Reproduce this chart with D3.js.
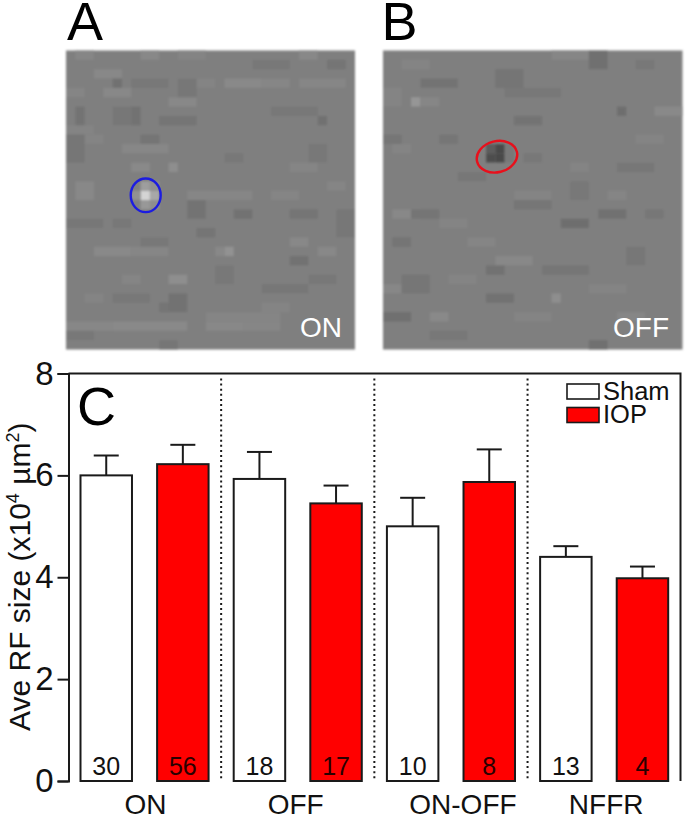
<!DOCTYPE html>
<html><head><meta charset="utf-8">
<script src="https://cdn.jsdelivr.net/npm/d3@7"></script>
<style>html,body{margin:0;padding:0;background:#fff}svg{display:block;font-family:"Liberation Sans",Arial,sans-serif}</style>
</head><body><svg id="c" width="685" height="818"></svg>
<script>
// Panel C data
const categories = ["ON","OFF","ON-OFF","NFFR"];
const groups = ["Sham","IOP"];
const shamMean = [6.0,5.93,5.0,4.4];
const iopMean  = [6.22,5.45,5.87,3.98];
const shamErr  = [0.39,0.53,0.56,0.21];
const iopErr   = [0.38,0.35,0.64,0.23];
const shamN = [30,18,10,13];
const iopN  = [56,17,8,4];
const yTicks = [0,2,4,6,8];

// Panels A, B: visible patches of the noise, [col,row,colspan,rowspan,grey]
const patchesA = [
 [1,0,2,1,134],[8,0,2,1,136],[12,0,3,1,132],[25,0,2,1,136],[3,2,3,1,136],[4,4,3,1,136],[0,4,2,1,133],
 [17,3,4,1,137],[21,3,3,1,134],[14,3,2,1,132],[11,5,3,1,136],[6,10,5,1,135],[0,8,3,1,132],[7,12,2,1,137],[11,12,1,1,142],
 [1,14,2,2,136],[13,15,7,1,134],[24,12,3,1,133],[3,21,4,1,137],[7,21,4,1,134],[17,21,1,1,146],[16,21,1,1,136],[11,24,2,1,142],
 [0,29,5,1,135],[5,29,8,1,137],[15,29,4,1,136],[19,29,4,1,134],[15,28,8,1,133],[27,21,2,1,136],[24,20,2,1,136],
 [25,3,5,1,134],[2,9,2,1,132],[22,15,3,1,133],[28,14,2,1,133],[6,24,2,1,133],[21,27,3,1,132],[2,26,2,1,132],
 [10,7,4,1,116],[27,7,1,1,113],[1,6,1,2,115],[5,3,1,1,113],[7,6,1,2,114],[5,6,2,2,119],[13,16,2,2,115],[18,17,2,1,114],[24,17,3,1,116],
 [14,19,2,1,116],[24,22,2,1,114],[11,26,2,2,114],[10,27,1,1,116],[28,1,2,1,116],[8,9,2,1,116],[7,3,4,1,120],
 [0,9,2,3,118],[22,6,5,1,120],[0,18,4,1,119],[8,20,3,1,120],[21,25,5,1,119],[5,26,4,1,120],[26,24,3,1,120],
 [17,11,2,1,120],[26,10,2,2,120],[12,3,2,2,119],[20,1,4,1,120],[16,23,2,2,120],[29,17,2,3,119],[5,18,2,1,120],[0,30,3,1,120],[10,31,2,1,118]
];
const spotA = [[8,15,1,1,212],[9,15,1,1,168],[8,14,1,1,158],[8,16,1,1,152],[7,15,1,1,146],[9,14,1,1,144],[9,16,1,1,142]];
const patchesB = [
 [18,0,4,1,134],[3,5,1,1,150],[4,5,2,1,134],[29,6,3,1,137],[12,22,4,1,136],[5,28,2,1,137],[18,26,1,1,142],[1,17,3,1,136],
 [24,15,2,1,133],[14,15,4,1,132],[2,1,3,1,132],[7,24,3,1,132],[22,25,4,1,132],[0,25,2,1,135],[9,20,3,1,133],
 [1,10,2,1,132],[27,9,3,1,132],[6,18,3,1,132],[25,28,3,1,134],[14,28,4,1,132],[20,12,2,1,132],[0,4,2,2,132],
 [22,0,2,2,112],[12,2,3,2,116],[4,3,4,1,115],[25,6,1,1,110],[14,7,3,1,115],[19,18,3,1,110],[23,17,3,1,113],
 [0,28,3,1,112],[11,23,2,1,114],[11,26,3,1,114],[22,31,2,1,112],[0,9,2,1,118],[6,9,2,1,118],[25,12,4,1,119],
 [3,17,3,1,116],[14,16,4,1,118],[1,20,2,1,116],[17,23,5,1,118],[13,4,6,1,120],[27,1,2,1,120],
 [8,13,3,1,119],[20,14,2,2,120],[2,24,3,2,118],[26,21,2,2,119],[5,30,4,1,120],[15,11,2,1,120],[28,17,2,1,119]
];
const spotB = [[12,10,1,1,74],[12,11,1,1,74],[11,11,1,1,78],[11,10,1,1,92],[13,10,1,1,120],[13,11,1,1,120]];
const backgroundGrey = 127;
const gridCols = d3.range(31), gridRows = d3.range(32);
const gridColsB = d3.range(32);

const svg = d3.select("#c");
const defs = svg.append("defs");
defs.append("filter").attr("id","soft").attr("x","-2%").attr("y","-2%").attr("width","104%").attr("height","104%")
  .append("feGaussianBlur").attr("stdDeviation",0.8);

function panel(x0,x1,y0,y1,cols,rows,patches,spot){
  const x = d3.scaleBand().domain(cols).range([x0,x1]);
  const y = d3.scaleBand().domain(rows).range([y0,y1]);
  const g = svg.append("g").attr("filter","url(#soft)");
  g.append("rect").attr("x",x0).attr("y",y0).attr("width",x1-x0).attr("height",y1-y0)
    .attr("fill",d3.rgb(backgroundGrey,backgroundGrey,backgroundGrey));
  g.selectAll("rect.p").data(patches.concat(spot)).join("rect").attr("class","p")
    .attr("x",d=>x(d[0])).attr("y",d=>y(d[1]))
    .attr("width",d=>x.step()*d[2]).attr("height",d=>y.step()*d[3])
    .attr("fill",d=>d3.rgb(d[4],d[4],d[4]));
}
panel(66,355,50.5,349.5,gridCols,gridRows,patchesA,spotA);
panel(383,682.5,50.5,349.5,gridColsB,gridRows,patchesB,spotB);

svg.append("ellipse").attr("cx",145.7).attr("cy",195.3).attr("rx",15).attr("ry",16.8)
  .attr("fill","none").attr("stroke","#1c1ce0").attr("stroke-width",2.4);
svg.append("ellipse").attr("cx",497).attr("cy",156.7).attr("rx",20.5).attr("ry",15.5)
  .attr("transform","rotate(-14 497 156.7)")
  .attr("fill","none").attr("stroke","#e8101c").attr("stroke-width",2.4);

const big = (t,x,y)=>svg.append("text").attr("x",x).attr("y",y).attr("font-size",54).attr("fill","#000").text(t);
big("A",67,40); big("B",381.5,40); big("C",77,425);
svg.append("text").attr("x",342).attr("y",337).attr("text-anchor","end").attr("font-size",28).attr("fill","#fff").text("ON");
svg.append("text").attr("x",669).attr("y",337).attr("text-anchor","end").attr("font-size",28).attr("fill","#fff").text("OFF");

// Panel C
const bars = categories.flatMap((c,i)=>[
  {key:c+"|Sham",cat:c,group:"Sham",v:shamMean[i],e:shamErr[i],n:shamN[i]},
  {key:c+"|IOP",cat:c,group:"IOP",v:iopMean[i],e:iopErr[i],n:iopN[i]}]);
const xL=68.5,xR=680.5,yT=373.5,yB=781;
const x = d3.scaleBand().domain(bars.map(d=>d.key)).range([80.5,668.2]).paddingInner(0.328).paddingOuter(0);
const y = d3.scaleLinear().domain([0,8]).range([yB,yT]);
const color = d3.scaleOrdinal().domain(groups).range(["#fff","#ff0000"]);
const ink="#1a1a1a", sw=2;

// dotted separators
d3.range(1,categories.length).forEach(i=>{
  const k = bars[i*2].key;
  const sx = x(k)-(x.step()-x.bandwidth())/2;
  svg.append("line").attr("x1",sx).attr("x2",sx).attr("y1",yT+5).attr("y2",yB)
    .attr("stroke",ink).attr("stroke-width",2).attr("stroke-dasharray","2 3.1");
});

const bg = svg.selectAll("g.bar").data(bars).join("g").attr("class","bar");
bg.append("line").attr("x1",d=>x(d.key)+x.bandwidth()/2).attr("x2",d=>x(d.key)+x.bandwidth()/2)
  .attr("y1",d=>y(d.v)).attr("y2",d=>y(d.v+d.e)).attr("stroke",ink).attr("stroke-width",sw);
bg.append("line").attr("x1",d=>x(d.key)+x.bandwidth()/2-12.5).attr("x2",d=>x(d.key)+x.bandwidth()/2+12.5)
  .attr("y1",d=>y(d.v+d.e)).attr("y2",d=>y(d.v+d.e)).attr("stroke",ink).attr("stroke-width",sw);
bg.append("rect").attr("x",d=>x(d.key)).attr("y",d=>y(d.v)).attr("width",x.bandwidth())
  .attr("height",d=>y(0)-y(d.v)).attr("fill",d=>color(d.group)).attr("stroke",ink).attr("stroke-width",sw);
bg.append("text").attr("x",d=>x(d.key)+x.bandwidth()/2).attr("y",775).attr("text-anchor","middle")
  .attr("font-size",25).attr("fill",d=>d.group==="IOP"?"#2a0000":"#111").text(d=>d.n);

// frame
svg.append("path").attr("d",`M${xL},${yT}H${xR}V${yB}`).attr("fill","none").attr("stroke",ink).attr("stroke-width",2);

const yAxis = svg.append("g").attr("transform",`translate(${xL},0)`)
  .call(d3.axisLeft(y).tickValues(yTicks).tickSize(11).tickPadding(4).tickFormat(d3.format("d")));
yAxis.selectAll("path,line").attr("stroke",ink).attr("stroke-width",2);
yAxis.selectAll("text").attr("font-size",33).attr("font-family","inherit").attr("fill","#111");

// category labels, nudged as in the reference
const labelShift = [1,-2,12,2];
const catScale = d3.scaleBand().domain(categories).range([x(bars[0].key)-(x.step()-x.bandwidth())/2, x(bars[7].key)+x.bandwidth()+(x.step()-x.bandwidth())/2]);
svg.selectAll("text.cat").data(categories).join("text").attr("class","cat")
  .attr("x",(d,i)=>catScale(d)+catScale.bandwidth()/2+labelShift[i]).attr("y",814)
  .attr("text-anchor","middle").attr("font-size",28).attr("fill","#111").text(d=>d);

// y title
const t = svg.append("text").attr("transform","translate(30,731) rotate(-90)").attr("font-size",30).attr("fill","#111");
t.append("tspan").text("Ave RF size (x10");
t.append("tspan").attr("font-size",18).attr("dy",-11).text("4");
t.append("tspan").attr("dy",11).text(" µm");
t.append("tspan").attr("font-size",18).attr("dy",-11).text("2");
t.append("tspan").attr("dy",11).text(")");

// legend
const ly = d3.scaleBand().domain(groups).range([384,431]).paddingInner(0);
const lg = svg.selectAll("g.leg").data(groups).join("g").attr("class","leg");
lg.append("rect").attr("x",567).attr("y",d=>ly(d)).attr("width",32).attr("height",15)
  .attr("fill",d=>color(d)).attr("stroke",ink).attr("stroke-width",1.6);
lg.append("text").attr("x",603).attr("y",d=>ly(d)+15.5).attr("font-size",25.5).attr("fill","#111").text(d=>d);
</script></body></html>
